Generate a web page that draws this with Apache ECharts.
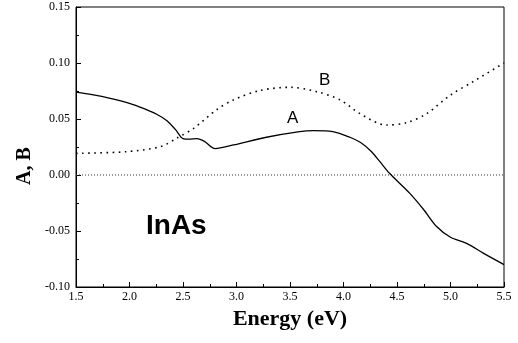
<!DOCTYPE html>
<html><head><meta charset="utf-8">
<script src="https://cdn.jsdelivr.net/npm/echarts@6/dist/echarts.min.js"></script>
<style>html,body{margin:0;padding:0;background:#fff}#c{width:518px;height:343px}</style>
</head><body><div id="c"></div>
<script>
const energyA = [1.5,1.65,1.82,2.0,2.13,2.25,2.35,2.43,2.50,2.56,2.63,2.70,2.80,2.97,3.28,3.59,3.72,3.90,4.06,4.16,4.26,4.34,4.43,4.62,4.75,4.87,5.0,5.15,5.31,5.5];
const valuesA = [0.074,0.0718,0.0685,0.064,0.0595,0.0545,0.0485,0.0405,0.0325,0.032,0.0325,0.030,0.0235,0.0268,0.0337,0.0387,0.0396,0.0387,0.0337,0.029,0.021,0.0119,0.0015,-0.0164,-0.031,-0.046,-0.0556,-0.061,-0.070,-0.080];
const energyB = [1.5,1.97,2.29,2.44,2.6,2.81,2.97,3.22,3.5,3.75,3.97,4.15,4.40,4.59,4.78,5.0,5.21,5.5];
const valuesB = [0.0193,0.0208,0.0253,0.0328,0.0417,0.058,0.067,0.0755,0.0783,0.0744,0.067,0.055,0.0446,0.0467,0.055,0.0714,0.0833,0.100];
const zeroLine = [[1.5,0],[5.5,0]];
const xTicks = {min:1.5, max:5.5, step:0.5};
const yTicks = {min:-0.10, max:0.15, step:0.05};

const chart = echarts.init(document.getElementById('c'));
const serif = '"Liberation Serif","Times New Roman",serif';
chart.setOption({
  animation:false,
  grid:{left:76,right:14,top:7,bottom:56,show:true,borderColor:'#000',borderWidth:1,backgroundColor:'transparent'},
  xAxis:{type:'value',min:xTicks.min,max:xTicks.max,interval:xTicks.step,
    name:'Energy (eV)',nameLocation:'middle',nameGap:14,
    nameTextStyle:{fontFamily:serif,fontWeight:'bold',fontSize:22,color:'#000'},
    axisLine:{onZero:false,lineStyle:{color:'#000',width:1}},
    axisTick:{inside:true,length:5,lineStyle:{color:'#000'}},
    minorTick:{show:true,splitNumber:2,length:3,lineStyle:{color:'#000'}},
    splitLine:{show:false},
    axisLabel:{fontFamily:serif,fontSize:12,color:'#000',margin:4,formatter:v=>v.toFixed(1)}},
  yAxis:{type:'value',min:yTicks.min,max:yTicks.max,interval:yTicks.step,
    axisLine:{show:true,onZero:false,lineStyle:{color:'#000',width:1}},
    axisTick:{show:true,inside:true,length:5,lineStyle:{color:'#000'}},
    minorTick:{show:true,splitNumber:2,length:3,lineStyle:{color:'#000'}},
    splitLine:{show:false},
    axisLabel:{fontFamily:serif,fontSize:12,color:'#000',margin:6,formatter:v=>v.toFixed(2)}},
  series:[
    {type:'line',data:zeroLine,symbol:'none',silent:true,
     lineStyle:{color:'#333',width:1,type:[1,2]}},
    {type:'line',data:energyA.map((e,i)=>[e,valuesA[i]]),symbol:'none',smooth:0.3,
     lineStyle:{color:'#000',width:1.3}},
    {type:'line',data:energyB.map((e,i)=>[e,valuesB[i]]),symbol:'none',smooth:0.3,
     lineStyle:{color:'#000',width:1.6,type:[1.6,4.5]}}
  ],
  graphic:[
    {type:'text',x:25,y:166,rotation:Math.PI/2,style:{text:'A, B',font:'bold 20px "Liberation Serif","Times New Roman",serif',fill:'#000',align:'center',verticalAlign:'middle'}},
    {type:'text',left:146,top:212,style:{text:'InAs',font:'bold 28px "Liberation Sans",Arial,sans-serif',fill:'#000'}},
    {type:'text',left:287,top:110,style:{text:'A',font:'17px "Liberation Sans",Arial,sans-serif',fill:'#000'}},
    {type:'text',left:319,top:72,style:{text:'B',font:'17px "Liberation Sans",Arial,sans-serif',fill:'#000'}}
  ]
});
</script></body></html>
